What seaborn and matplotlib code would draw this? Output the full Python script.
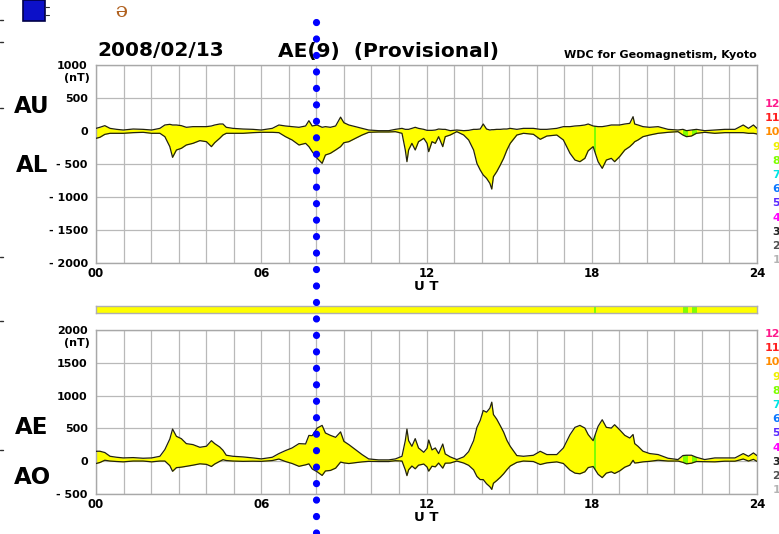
import numpy as np
import pandas as pd
import matplotlib
matplotlib.use("Agg")
import matplotlib.pyplot as plt
import matplotlib.transforms as mtransforms
from matplotlib.lines import Line2D
from matplotlib.patches import Rectangle
from matplotlib.ticker import MultipleLocator, FixedLocator
import seaborn as sns

# ---------------- data: AE(9) provisional, 2008-02-13 ----------------
ut_hours = [0.00, 0.14, 0.32, 0.51, 0.75, 0.99, 1.35, 1.71, 2.02, 2.32,
            2.50, 2.68, 2.78, 2.92, 3.10, 3.28, 3.52, 3.77, 4.01, 4.19,
            4.31, 4.49, 4.61, 4.73, 4.97, 5.34, 5.70, 6.00, 6.40, 6.64,
            6.88, 7.12, 7.37, 7.61, 7.73, 7.85, 8.03, 8.21, 8.33, 8.51,
            8.70, 8.88, 9.00, 9.18, 9.42, 9.66, 9.90, 10.26, 10.63, 10.87,
            11.11, 11.23, 11.29, 11.35, 11.47, 11.59, 11.71, 11.90, 12.02, 12.08,
            12.20, 12.32, 12.44, 12.59, 12.68, 12.86, 13.10, 13.35, 13.53, 13.71,
            13.83, 13.95, 14.06, 14.18, 14.30, 14.37, 14.43, 14.55, 14.68, 14.80,
            14.92, 15.04, 15.28, 15.52, 15.88, 16.13, 16.37, 16.73, 16.97, 17.21,
            17.39, 17.57, 17.75, 17.87, 18.05, 18.23, 18.38, 18.53, 18.71, 18.83,
            19.01, 19.20, 19.38, 19.50, 19.56, 19.68, 19.86, 20.10, 20.41, 20.77,
            21.13, 21.31, 21.44, 21.62, 21.80, 22.10, 22.47, 22.83, 23.20, 23.50,
            23.69, 23.87, 24.00]
au_nt = [40, 56, 81, 40, 25, 15, 30, 25, 15, 40,
         91, 101, 91, 91, 81, 56, 66, 66, 66, 76,
         91, 106, 106, 56, 40, 30, 25, 15, 40, 91,
         76, 66, 56, 76, 156, 76, 91, 56, 66, 56,
         76, 210, 126, 91, 66, 40, 15, 5, 5, 25,
         40, 25, 25, 25, 40, 56, 40, 25, 10, 10,
         10, 15, 30, 25, 25, 5, 15, 5, 10, 25,
         25, 30, 106, 30, 15, 20, 20, 25, 25, 30,
         30, 40, 25, 40, 40, 25, 25, 40, 66, 66,
         76, 81, 91, 106, 76, 66, 66, 76, 91, 91,
         91, 106, 116, 217, 106, 91, 66, 56, 66, 25,
         15, 25, 5, 15, 25, 5, 15, 25, 25, 91,
         40, 91, 40]
al_nt = [-111, -96, -51, -35, -35, -35, -25, -20, -35, -35,
         -86, -237, -399, -288, -262, -212, -187, -146, -162, -237,
         -177, -111, -61, -35, -35, -35, -25, -20, -20, -25,
         -86, -136, -212, -187, -237, -313, -414, -490, -364, -338,
         -288, -237, -177, -162, -111, -61, -20, -15, -15, -10,
         -35, -288, -465, -288, -187, -288, -162, -111, -187, -313,
         -162, -187, -86, -237, -86, -61, -10, -61, -136, -288,
         -490, -591, -667, -717, -793, -880, -692, -616, -515, -414,
         -288, -187, -61, -35, -50, -126, -76, -61, -136, -338,
         -440, -465, -414, -300, -237, -465, -566, -440, -414, -465,
         -389, -288, -237, -190, -162, -136, -86, -61, -35, -20,
         -10, -61, -86, -76, -35, -20, -35, -25, -25, -25,
         -35, -35, -45]

# number of contributing stations: change times (UT) and counts
station_change_ut = [0.00, 18.08, 18.14, 21.31, 21.50, 21.64, 21.82]
station_count = [9, 8, 9, 8, 9, 8, 9]

legend_counts = [12, 11, 10, 9, 8, 7, 6, 5, 4, 3, 2, 1]
count_colors = {12: '#ff1a8c', 11: '#ff2020', 10: '#ff8c00', 9: '#ffff00',
                8: '#80ff00', 7: '#00e5e5', 6: '#0a78ff', 5: '#5a28ff',
                4: '#ff00ff', 3: '#202020', 2: '#505050', 1: '#b4b4b4'}
legend_text_colors = dict(count_colors)
legend_text_colors[9] = '#f0f000'

top_yticks = [-2000, -1500, -1000, -500, 0, 500, 1000]
top_ylabels = ['- 2000', '- 1500', '- 1000', '- 500', '0', '500', '1000']
bot_yticks = [-500, 0, 500, 1000, 1500, 2000]
bot_ylabels = ['- 500', '0', '500', '1000', '1500', '2000']
hour_ticks = [0, 6, 12, 18, 24]
hour_labels = ['00', '06', '12', '18', '24']
cursor_ut = 8.0

df = pd.DataFrame({'UT': ut_hours, 'AU': au_nt, 'AL': al_nt})
df['AE'] = df['AU'] - df['AL']
df['AO'] = (df['AU'] + df['AL']) / 2.0

# ---------------- figure ----------------
sns.set_theme(style='white')
plt.rcParams['font.family'] = ['DejaVu Sans']
plt.rcParams['font.weight'] = 'bold'
plt.rcParams['text.color'] = 'black'
plt.rcParams['axes.labelcolor'] = 'black'
plt.rcParams['xtick.color'] = 'black'
plt.rcParams['ytick.color'] = 'black'

W, H = 779, 534
fig = plt.figure(figsize=(W / 100, H / 100), dpi=100)
fig.patch.set_facecolor('white')


def fx(px):
    return px / W


def fy(py):
    return 1 - py / H


left, right = 96, 757
ax_top = fig.add_axes([fx(left), fy(263), (right - left) / W, (263 - 65) / H])
ax_bar = fig.add_axes([fx(left), fy(313), (right - left) / W, 7 / H])
ax_bot = fig.add_axes([fx(left), fy(494), (right - left) / W, (494 - 330) / H])

grid_col = '#b9b9b9'
edge_col = '#22220f'


def style_panel(ax, yticks, ylabels, ylim):
    ax.set_xlim(0, 24)
    ax.set_ylim(*ylim)
    ax.xaxis.set_major_locator(FixedLocator(hour_ticks))
    ax.xaxis.set_minor_locator(MultipleLocator(1))
    ax.set_xticks(hour_ticks)
    ax.set_xticklabels(hour_labels, fontsize=8.5, fontweight='bold')
    ax.set_yticks(yticks)
    ax.set_yticklabels(ylabels, fontsize=8, fontweight='bold')
    ax.tick_params(axis='both', which='both', length=0, pad=3, colors='black')
    ax.tick_params(axis='y', pad=6)
    ax.grid(True, which='both', axis='x', color=grid_col, lw=0.9)
    ax.grid(True, which='major', axis='y', color=grid_col, lw=0.9)
    ax.set_axisbelow(True)
    for s in ax.spines.values():
        s.set_color('#a8a8a8')
        s.set_linewidth(1.0)
    ax.set_xlabel('U T', fontsize=9.5, fontweight='bold', labelpad=0)
    ax.set_ylabel('')


def fill_panel(ax, lower, upper):
    poly = ax.fill_between(df['UT'], df[lower], df[upper],
                           color=count_colors[9], lw=0, zorder=2)
    clip = poly.get_paths()[0]
    bounds = station_change_ut + [24.0]
    for i, cnt in enumerate(station_count):
        if cnt == 9:
            continue
        span = ax.axvspan(bounds[i], bounds[i + 1], color=count_colors[cnt],
                          lw=0, zorder=3)
        span.set_clip_path(clip, transform=ax.transData)
    sns.lineplot(data=df, x='UT', y=upper, ax=ax, color=edge_col, lw=0.9,
                 zorder=4, estimator=None, sort=False)
    sns.lineplot(data=df, x='UT', y=lower, ax=ax, color=edge_col, lw=0.9,
                 zorder=4, estimator=None, sort=False)


fill_panel(ax_top, 'AL', 'AU')
style_panel(ax_top, top_yticks, top_ylabels, (-2000, 1000))
fill_panel(ax_bot, 'AO', 'AE')
style_panel(ax_bot, bot_yticks, bot_ylabels, (-500, 2000))

# station-count strip
bounds = station_change_ut + [24.0]
for i, cnt in enumerate(station_count):
    ax_bar.axvspan(bounds[i], bounds[i + 1], color=count_colors[cnt], lw=0)
ax_bar.set_xlim(0, 24)
ax_bar.set_ylim(0, 1)
ax_bar.set_xticks([])
ax_bar.set_yticks([])
for s in ax_bar.spines.values():
    s.set_color('#b0b0b0')
    s.set_linewidth(1.0)

# units under the top tick label
fig.text(fx(90), fy(78), '(nT)', ha='right', va='center', fontsize=8, fontweight='bold')
fig.text(fx(90), fy(343), '(nT)', ha='right', va='center', fontsize=8, fontweight='bold')

# index names
for name, ypx in [('AU', 107), ('AL', 166), ('AE', 428), ('AO', 477)]:
    fig.text(fx(32), fy(ypx), name, ha='center', va='center', fontsize=16.5,
             fontweight='bold')

# titles
fig.text(fx(97), fy(51), '2008/02/13', ha='left', va='center', fontsize=14.5,
         fontweight='bold')
fig.text(fx(278), fy(51), 'AE(9)  (Provisional)', ha='left', va='center',
         fontsize=14.5, fontweight='bold')
fig.text(fx(757), fy(55), 'WDC for Geomagnetism, Kyoto', ha='right', va='center',
         fontsize=8, fontweight='bold')

# station-count colour key at the right edge
for k, cnt in enumerate(legend_counts):
    for y0 in (104, 334):
        fig.text(fx(780), fy(y0 + k * 14.2), str(cnt), ha='right', va='center',
                 fontsize=8, fontweight='bold', color=legend_text_colors[cnt])

# time cursor
blend = mtransforms.blended_transform_factory(ax_top.transData, fig.transFigure)
fig.add_artist(Line2D([cursor_ut, cursor_ut], [fy(21.5), -0.05], transform=blend,
                      color='#0000ff', lw=5.2, linestyle=(0, (0.01, 2.27)),
                      dash_capstyle='round', zorder=10))

# window fragments along the top-left edge
fig.add_artist(Rectangle((fx(23), fy(21)), 22 / W, 21 / H, transform=fig.transFigure,
                         facecolor='#0c10c8', edgecolor='#000048', lw=1.2))
for ypx in (7, 15):
    fig.add_artist(Line2D([fx(45), fx(49)], [fy(ypx), fy(ypx)],
                          transform=fig.transFigure, color='#303030', lw=0.8))
fig.text(fx(120), fy(9), 'e', ha='center', va='center', fontsize=15,
         family='DejaVu Serif', fontweight='normal', color='#b0601e', rotation=180)
for ypx in (20, 42, 108, 257, 321, 450):
    fig.add_artist(Line2D([0, fx(3)], [fy(ypx), fy(ypx)],
                          transform=fig.transFigure, color='#303030', lw=1.0))

fig.savefig('out.png', dpi=100, facecolor='white')
